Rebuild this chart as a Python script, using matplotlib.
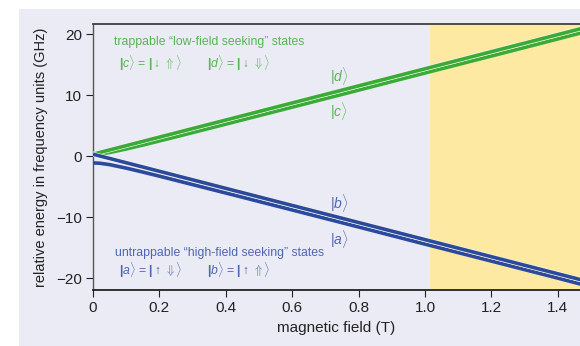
import matplotlib
matplotlib.use("Agg")
import matplotlib.pyplot as plt
import matplotlib.patheffects as pe
from matplotlib.patches import Rectangle

plt.rcParams['font.family'] = ['Liberation Sans', 'DejaVu Sans']
plt.rcParams['mathtext.fontset'] = 'custom'
plt.rcParams['mathtext.rm'] = 'Liberation Sans'
plt.rcParams['mathtext.it'] = 'Liberation Sans:italic'
plt.rcParams['mathtext.bf'] = 'Liberation Sans:bold'

# magnetic field (T)
field = [0, 0.02, 0.05, 0.1, 0.15, 0.2, 0.3, 0.4, 0.6, 0.8, 1.0, 1.2, 1.4, 1.47]
# energies (GHz)
state_d = [0.36, 0.64, 1.06, 1.76, 2.46, 3.16, 4.56, 5.96, 8.76, 11.56, 14.36, 17.16, 19.96, 20.94]
state_c = [0.36, 0.41, 0.64, 1.22, 1.86, 2.53, 3.90, 5.29, 8.07, 10.86, 13.67, 16.45, 19.25, 20.24]
state_b = [0.36, 0.08, -0.34, -1.04, -1.74, -2.44, -3.84, -5.24, -8.04, -10.84, -13.64, -16.44, -19.24, -20.22]
state_a = [-1.07, -1.12, -1.35, -1.92, -2.57, -3.24, -4.62, -6.00, -8.78, -11.57, -14.38, -17.16, -19.95, -20.95]

xticks = [0, 0.2, 0.4, 0.6, 0.8, 1.0, 1.2, 1.4]
xticklabels = ['0', '0.2', '0.4', '0.6', '0.8', '1.0', '1.2', '1.4']
yticks = [-20, -10, 0, 10, 20]
yticklabels = ['\u221220', '\u221210', '0', '10', '20']
yellow_start = 1.015

GREEN = '#3aab36'
BLUE = '#2c4a9c'
GREEN_T = '#58b454'
BLUE_T = '#4d66b3'
LAV = '#ebebf6'
YEL = '#fee9a3'

fig = plt.figure(figsize=(5.8, 3.46), dpi=100, facecolor='white')
bg = Rectangle((19 / 580, 0), 1, 1 - 9 / 346, transform=fig.transFigure,
               facecolor=LAV, edgecolor='none', zorder=-10)
fig.add_artist(bg)
ax = fig.add_axes([93 / 580, (346 - 290) / 346, 1 - 93 / 580, (290 - 24) / 346])
ax.set_zorder(5)
ax.set_facecolor(LAV)
ax.set_xlim(0, 1.467)
ax.set_ylim(-21.9, 21.7)
ax.axvspan(yellow_start, 1.467, color=YEL, lw=0, zorder=0)

lw = 2.6
stroke = [pe.Stroke(linewidth=lw + 0.9, foreground='#f6f6f0'), pe.Normal()]
ax.plot(field, state_c, color=GREEN, lw=lw, solid_capstyle='butt', zorder=3)
ax.plot(field, state_d, color=GREEN, lw=lw, solid_capstyle='butt', zorder=4, path_effects=stroke)
ax.plot(field, state_a, color=BLUE, lw=lw, solid_capstyle='butt', zorder=3)
ax.plot(field, state_b, color=BLUE, lw=lw, solid_capstyle='butt', zorder=4, path_effects=stroke)

ax.set_xticks(xticks)
ax.set_xticklabels(xticklabels)
ax.set_yticks(yticks)
ax.set_yticklabels(yticklabels)
ax.tick_params(direction='out', length=5, width=0.8, color='#222222', labelsize=11, pad=3,
               labelcolor='#222222')
ax.spines['right'].set_visible(False)
ax.spines['left'].set_color('#555555')
ax.spines['left'].set_linewidth(1.0)
ax.spines['bottom'].set_color('#111111')
ax.spines['bottom'].set_linewidth(1.2)
ax.spines['top'].set_color('#333333')
ax.spines['top'].set_linewidth(1.2)

ax.set_xlabel('magnetic field (T)', fontsize=11, color='#222222', labelpad=4)
ax.set_ylabel('relative energy in frequency units (GHz)', fontsize=10.5, color='#222222', labelpad=6)

fs = 8.8
ax.text(0.063, 18.75, 'trappable \u201clow-field seeking\u201d states', color=GREEN_T, fontsize=fs, va='center')
ax.text(0.078, 15.3, r'$\mathbf{|}c\rangle$ = $\mathbf{|}\downarrow\,\Uparrow\rangle$', color=GREEN_T, fontsize=fs, va='center')
ax.text(0.343, 15.3, r'$\mathbf{|}d\rangle$ = $\mathbf{|}\downarrow\,\Downarrow\rangle$', color=GREEN_T, fontsize=fs, va='center')
ax.text(0.066, -15.8, 'untrappable \u201chigh-field seeking\u201d states', color=BLUE_T, fontsize=fs, va='center')
ax.text(0.078, -18.6, r'$\mathbf{|}a\rangle$ = $\mathbf{|}\uparrow\,\Downarrow\rangle$', color=BLUE_T, fontsize=fs, va='center')
ax.text(0.343, -18.6, r'$\mathbf{|}b\rangle$ = $\mathbf{|}\uparrow\,\Uparrow\rangle$', color=BLUE_T, fontsize=fs, va='center')

kfs = 10
ax.text(0.714, 13.2, r'$|d\rangle$', color=GREEN_T, fontsize=kfs, va='center')
ax.text(0.714, 7.45, r'$|c\rangle$', color=GREEN_T, fontsize=kfs, va='center')
ax.text(0.714, -7.6, r'$|b\rangle$', color=BLUE_T, fontsize=kfs, va='center')
ax.text(0.714, -13.5, r'$|a\rangle$', color=BLUE_T, fontsize=kfs, va='center')

fig.savefig('out.png', dpi=100, facecolor='white')
